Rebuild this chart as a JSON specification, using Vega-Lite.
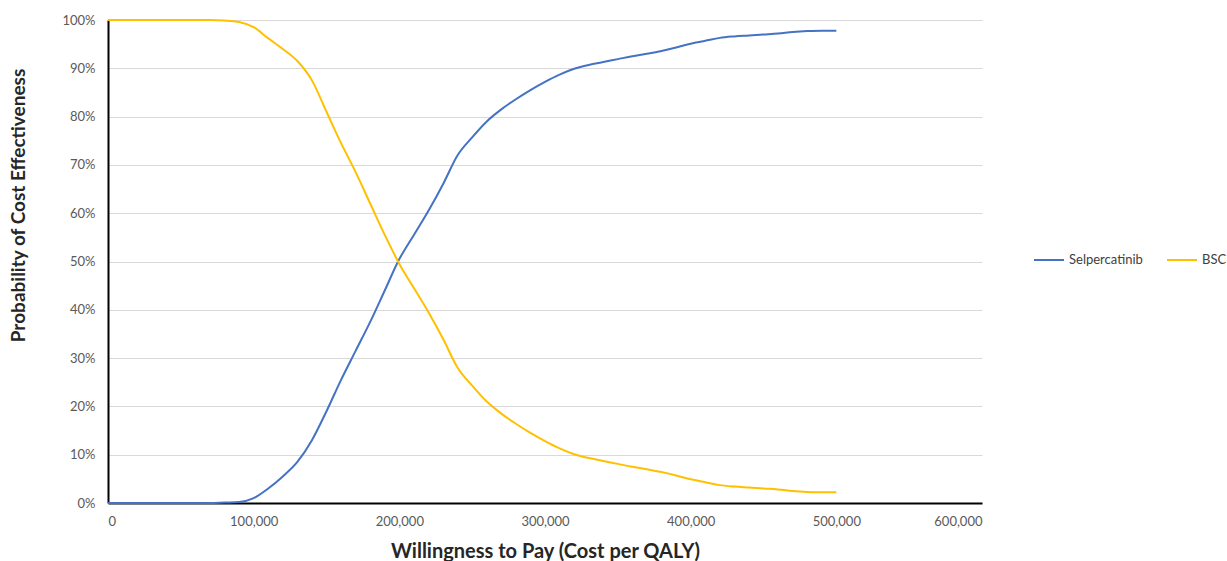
{
  "$schema": "https://vega.github.io/schema/vega-lite/v6.json",
  "width": 874,
  "height": 483,
  "autosize": "none",
  "padding": {"left": 108, "top": 20, "right": 245, "bottom": 58},
  "background": "white",
  "config": {
    "view": {"stroke": null},
    "font": "Lato"
  },
  "data": {
    "values": [
      {"wtp": 0, "series": "Selpercatinib", "p": 0},
      {"wtp": 10000, "series": "Selpercatinib", "p": 0},
      {"wtp": 20000, "series": "Selpercatinib", "p": 0},
      {"wtp": 30000, "series": "Selpercatinib", "p": 0},
      {"wtp": 40000, "series": "Selpercatinib", "p": 0},
      {"wtp": 50000, "series": "Selpercatinib", "p": 0},
      {"wtp": 60000, "series": "Selpercatinib", "p": 0},
      {"wtp": 70000, "series": "Selpercatinib", "p": 0},
      {"wtp": 80000, "series": "Selpercatinib", "p": 0.001},
      {"wtp": 90000, "series": "Selpercatinib", "p": 0.002},
      {"wtp": 100000, "series": "Selpercatinib", "p": 0.01},
      {"wtp": 110000, "series": "Selpercatinib", "p": 0.03},
      {"wtp": 120000, "series": "Selpercatinib", "p": 0.055},
      {"wtp": 130000, "series": "Selpercatinib", "p": 0.085},
      {"wtp": 140000, "series": "Selpercatinib", "p": 0.13},
      {"wtp": 150000, "series": "Selpercatinib", "p": 0.19},
      {"wtp": 160000, "series": "Selpercatinib", "p": 0.255},
      {"wtp": 170000, "series": "Selpercatinib", "p": 0.315},
      {"wtp": 180000, "series": "Selpercatinib", "p": 0.375},
      {"wtp": 190000, "series": "Selpercatinib", "p": 0.44},
      {"wtp": 200000, "series": "Selpercatinib", "p": 0.505},
      {"wtp": 210000, "series": "Selpercatinib", "p": 0.555},
      {"wtp": 220000, "series": "Selpercatinib", "p": 0.605},
      {"wtp": 230000, "series": "Selpercatinib", "p": 0.66},
      {"wtp": 240000, "series": "Selpercatinib", "p": 0.72},
      {"wtp": 250000, "series": "Selpercatinib", "p": 0.757},
      {"wtp": 260000, "series": "Selpercatinib", "p": 0.79},
      {"wtp": 270000, "series": "Selpercatinib", "p": 0.815},
      {"wtp": 280000, "series": "Selpercatinib", "p": 0.836},
      {"wtp": 290000, "series": "Selpercatinib", "p": 0.855},
      {"wtp": 300000, "series": "Selpercatinib", "p": 0.872},
      {"wtp": 310000, "series": "Selpercatinib", "p": 0.887},
      {"wtp": 320000, "series": "Selpercatinib", "p": 0.899},
      {"wtp": 330000, "series": "Selpercatinib", "p": 0.907},
      {"wtp": 340000, "series": "Selpercatinib", "p": 0.913},
      {"wtp": 350000, "series": "Selpercatinib", "p": 0.919},
      {"wtp": 360000, "series": "Selpercatinib", "p": 0.925},
      {"wtp": 370000, "series": "Selpercatinib", "p": 0.93},
      {"wtp": 380000, "series": "Selpercatinib", "p": 0.936},
      {"wtp": 390000, "series": "Selpercatinib", "p": 0.943},
      {"wtp": 400000, "series": "Selpercatinib", "p": 0.951},
      {"wtp": 410000, "series": "Selpercatinib", "p": 0.957},
      {"wtp": 420000, "series": "Selpercatinib", "p": 0.963},
      {"wtp": 430000, "series": "Selpercatinib", "p": 0.966},
      {"wtp": 440000, "series": "Selpercatinib", "p": 0.968},
      {"wtp": 450000, "series": "Selpercatinib", "p": 0.97},
      {"wtp": 460000, "series": "Selpercatinib", "p": 0.972},
      {"wtp": 470000, "series": "Selpercatinib", "p": 0.975},
      {"wtp": 480000, "series": "Selpercatinib", "p": 0.977},
      {"wtp": 490000, "series": "Selpercatinib", "p": 0.978},
      {"wtp": 500000, "series": "Selpercatinib", "p": 0.978},
      {"wtp": 0, "series": "BSC", "p": 1},
      {"wtp": 10000, "series": "BSC", "p": 1},
      {"wtp": 20000, "series": "BSC", "p": 1},
      {"wtp": 30000, "series": "BSC", "p": 1},
      {"wtp": 40000, "series": "BSC", "p": 1},
      {"wtp": 50000, "series": "BSC", "p": 1},
      {"wtp": 60000, "series": "BSC", "p": 1},
      {"wtp": 70000, "series": "BSC", "p": 1},
      {"wtp": 80000, "series": "BSC", "p": 0.999},
      {"wtp": 90000, "series": "BSC", "p": 0.996},
      {"wtp": 100000, "series": "BSC", "p": 0.985},
      {"wtp": 110000, "series": "BSC", "p": 0.962},
      {"wtp": 120000, "series": "BSC", "p": 0.94},
      {"wtp": 130000, "series": "BSC", "p": 0.915},
      {"wtp": 140000, "series": "BSC", "p": 0.875},
      {"wtp": 150000, "series": "BSC", "p": 0.81},
      {"wtp": 160000, "series": "BSC", "p": 0.745},
      {"wtp": 170000, "series": "BSC", "p": 0.685},
      {"wtp": 180000, "series": "BSC", "p": 0.62},
      {"wtp": 190000, "series": "BSC", "p": 0.555},
      {"wtp": 200000, "series": "BSC", "p": 0.495},
      {"wtp": 210000, "series": "BSC", "p": 0.445},
      {"wtp": 220000, "series": "BSC", "p": 0.395},
      {"wtp": 230000, "series": "BSC", "p": 0.34},
      {"wtp": 240000, "series": "BSC", "p": 0.28},
      {"wtp": 250000, "series": "BSC", "p": 0.243},
      {"wtp": 260000, "series": "BSC", "p": 0.21},
      {"wtp": 270000, "series": "BSC", "p": 0.185},
      {"wtp": 280000, "series": "BSC", "p": 0.164},
      {"wtp": 290000, "series": "BSC", "p": 0.145},
      {"wtp": 300000, "series": "BSC", "p": 0.128},
      {"wtp": 310000, "series": "BSC", "p": 0.113},
      {"wtp": 320000, "series": "BSC", "p": 0.101},
      {"wtp": 330000, "series": "BSC", "p": 0.093},
      {"wtp": 340000, "series": "BSC", "p": 0.087},
      {"wtp": 350000, "series": "BSC", "p": 0.081},
      {"wtp": 360000, "series": "BSC", "p": 0.075},
      {"wtp": 370000, "series": "BSC", "p": 0.07},
      {"wtp": 380000, "series": "BSC", "p": 0.064},
      {"wtp": 390000, "series": "BSC", "p": 0.057},
      {"wtp": 400000, "series": "BSC", "p": 0.049},
      {"wtp": 410000, "series": "BSC", "p": 0.043},
      {"wtp": 420000, "series": "BSC", "p": 0.037},
      {"wtp": 430000, "series": "BSC", "p": 0.034},
      {"wtp": 440000, "series": "BSC", "p": 0.032},
      {"wtp": 450000, "series": "BSC", "p": 0.03},
      {"wtp": 460000, "series": "BSC", "p": 0.028},
      {"wtp": 470000, "series": "BSC", "p": 0.025},
      {"wtp": 480000, "series": "BSC", "p": 0.023},
      {"wtp": 490000, "series": "BSC", "p": 0.022},
      {"wtp": 500000, "series": "BSC", "p": 0.022}
    ]
  },
  "mark": {"type": "line", "strokeWidth": 2, "interpolate": "monotone"},
  "encoding": {
    "x": {
      "field": "wtp",
      "type": "quantitative",
      "scale": {"domain": [0, 600000], "nice": false},
      "axis": {
        "title": "Willingness to Pay (Cost per QALY)",
        "values": [0, 100000, 200000, 300000, 400000, 500000, 600000],
        "format": ",.0f",
        "grid": false,
        "ticks": false,
        "tickSize": 0,
        "labelPadding": 12,
        "labelFontSize": 13,
        "labelColor": "#595959",
        "labelFont": "Lato",
        "domainColor": "#000000",
        "domainWidth": 2,
        "titleFont": "Lato",
        "titleFontSize": 20,
        "titleFontWeight": "bold",
        "titleColor": "#262626",
        "titleY": 48,
        "titleBaseline": "middle"
      }
    },
    "y": {
      "field": "p",
      "type": "quantitative",
      "scale": {"domain": [0, 1], "nice": false},
      "axis": {
        "title": "Probability of Cost Effectiveness",
        "values": [0, 0.1, 0.2, 0.3, 0.4, 0.5, 0.6, 0.7, 0.8, 0.9, 1],
        "format": ".0%",
        "grid": true,
        "gridColor": "#d9d9d9",
        "gridWidth": 1,
        "ticks": false,
        "tickSize": 0,
        "labelPadding": 13,
        "labelFontSize": 13,
        "labelColor": "#595959",
        "labelFont": "Lato",
        "domainColor": "#000000",
        "domainWidth": 2,
        "titleFont": "Lato",
        "titleFontSize": 19,
        "titleFontWeight": "bold",
        "titleColor": "#262626",
        "titleX": -90,
        "titleY": 185,
        "titleAngle": -90,
        "titleBaseline": "middle",
        "titleAlign": "center"
      }
    },
    "color": {
      "field": "series",
      "type": "nominal",
      "scale": {"domain": ["Selpercatinib", "BSC"], "range": ["#4472C4", "#FFC000"]},
      "legend": {
        "title": null,
        "orient": "none",
        "legendX": 925,
        "legendY": 224,
        "direction": "horizontal",
        "symbolType": "stroke",
        "symbolStrokeWidth": 2,
        "symbolSize": 900,
        "labelFontSize": 13,
        "labelFont": "Lato",
        "labelColor": "#404040",
        "labelOffset": 4,
        "columnPadding": 20
      }
    }
  }
}
